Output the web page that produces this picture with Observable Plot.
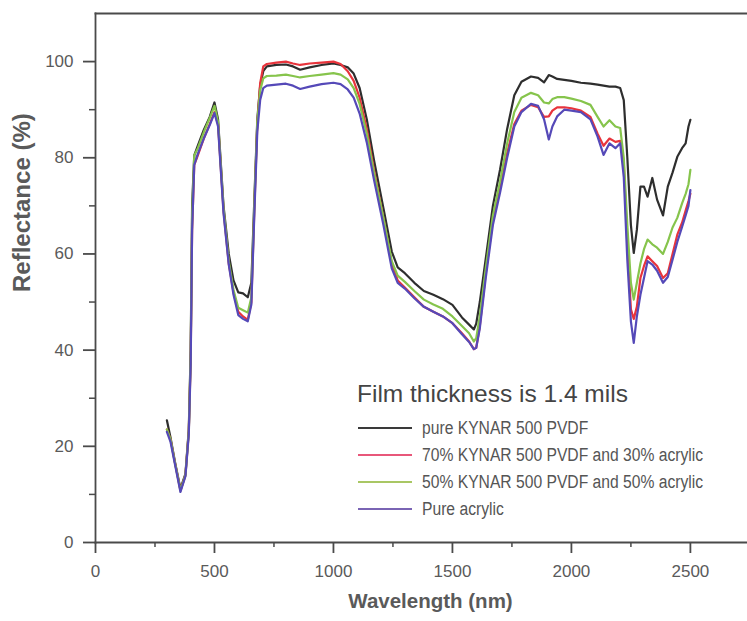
<!DOCTYPE html>
<html>
<head>
<meta charset="utf-8">
<script src="https://cdn.jsdelivr.net/npm/d3@7"></script>
<script src="https://cdn.jsdelivr.net/npm/@observablehq/plot@0.6"></script>
<style>
  html, body { margin: 0; padding: 0; background: #ffffff; }
  #wrap { position: relative; width: 747px; height: 621px; overflow: hidden; }
  #wrap svg { font-family: "Liberation Sans", Arial, sans-serif; }
  .legend-title { position: absolute; left: 357px; top: 382px; font: 24.5px/1 "Liberation Sans", Arial, sans-serif; color: #444; white-space: nowrap; }
  .legend-row { position: absolute; left: 358px; height: 26px; display: flex; align-items: center; white-space: nowrap; }
  .legend-row .sw { width: 54px; height: 2px; margin-right: 10px; flex: none; }
  .legend-row .lb { font: 18px/1 "Liberation Sans", Arial, sans-serif; color: #555; transform: scaleX(0.87); transform-origin: left center; }
</style>
</head>
<body>
<div id="wrap"></div>
<script>
// ---- data ----
const wavelength = [300, 315, 335, 357, 378, 392, 400, 406, 415, 430, 455, 480, 500, 515, 538, 560, 580, 600, 620, 640, 655, 668, 680, 692, 705, 720, 760, 800, 830, 860, 900, 950, 1000, 1030, 1060, 1085, 1110, 1140, 1170, 1210, 1245, 1270, 1300, 1340, 1380, 1420, 1460, 1500, 1540, 1570, 1590, 1600, 1615, 1640, 1670, 1700, 1730, 1760, 1790, 1830, 1860, 1885, 1905, 1920, 1940, 1970, 2000, 2040, 2080, 2110, 2135, 2160, 2185, 2205, 2220, 2235, 2250, 2262, 2275, 2290, 2305, 2320, 2340, 2360, 2385, 2405, 2425, 2445, 2465, 2480, 2492, 2500];

const pureKynar = [25.4, 21.9, 16.5, 11.2, 14.3, 23.5, 40, 70, 80.5, 82.5, 85.8, 88.5, 91.5, 88, 70, 60, 54.5, 52, 51.8, 51, 54, 72, 88, 95, 98, 99, 99.3, 99.4, 99, 98.3, 98.8, 99.3, 99.6, 99.3, 98.8, 97.5, 94.5, 88, 79.6, 69.5, 60.5, 57.2, 56, 54, 52.3, 51.5, 50.6, 49.4, 46.8, 45.3, 44.3, 45.5, 50, 59, 70, 77.5, 86, 93, 95.8, 96.9, 96.6, 95.7, 97.2, 96.9, 96.4, 96.2, 96, 95.6, 95.4, 95.2, 95, 94.8, 94.8, 94.5, 92, 80, 66, 60.2, 65, 74, 74, 71.9, 75.8, 71.3, 68, 74, 76.9, 80.2, 82, 83, 86.5, 87.9];

const kynar70 = [23.5, 21.5, 16.3, 10.8, 14, 23, 38, 65, 78.5, 80.5, 84, 87, 89.5, 87, 69, 58, 52, 48, 47, 46.3, 50, 70, 87, 95.5, 99, 99.5, 99.8, 100, 99.6, 99.3, 99.6, 99.8, 100, 99.5, 98, 96, 92.5, 86, 77.5, 67.5, 58, 54.5, 53, 51, 49, 48, 47, 45.6, 43.5, 41.8, 40.2, 40.5, 45, 56, 67, 73.5, 81, 87, 89.8, 91, 90.5, 88.5, 88.6, 89.8, 90.5, 90.5, 90.3, 89.8, 88.5, 85, 82.5, 84, 83.3, 83.5, 79, 62, 48.5, 46.5, 49, 55, 57.5, 59.5, 58.5, 57.5, 55, 56, 60, 64, 66.5, 69, 71, 72.5];

const kynar50 = [23.5, 21.5, 16.3, 10.8, 14, 23, 39, 68, 80.5, 82, 85.3, 88.3, 90.8, 87.5, 69.5, 58.5, 52.5, 48.8, 48.3, 47.8, 51, 71, 87.5, 94, 96.5, 97, 97.1, 97.3, 97, 96.7, 97, 97.3, 97.6, 97.3, 96.3, 94.5, 91.2, 85, 77, 67.5, 58.5, 55.5, 54.2, 52.3, 50.5, 49.5, 48.6, 47, 45, 43.5, 41.8, 42.5, 47, 57, 68, 75, 83, 89.5, 92.5, 93.5, 93, 91.5, 91.3, 92.2, 92.6, 92.6, 92.3, 91.8, 91, 88.5, 86.5, 87.8, 86.5, 86.2, 80, 66, 54, 50.5, 54, 58, 61, 63, 62, 61.3, 60, 62.5, 65.5, 67.5, 70.5, 72.5, 74.5, 77.5];

const pureAcrylic = [23, 21, 16, 10.5, 13.8, 22.5, 37, 65, 78.5, 80.8, 84, 86.8, 89.3, 86.5, 68.5, 57.8, 51.5, 47.3, 46.5, 46, 49.5, 69, 85.5, 92, 94.5, 95, 95.2, 95.4, 95, 94.3, 94.8, 95.3, 95.6, 95.3, 94.2, 92.5, 89.2, 83.2, 75.5, 66, 57, 54, 52.8, 50.8, 49, 48, 47, 45.6, 43.3, 41.7, 40.2, 40.5, 44.5, 55, 66, 72.7, 80, 86.5, 89.5, 91.2, 90.8, 88, 83.8, 86.5, 88.6, 90, 89.8, 89.5, 88, 84.4, 80.6, 83, 82, 83, 76, 58.7, 46, 41.5, 47, 51.5, 55, 58.5, 57.8, 56.5, 54, 55.2, 58.8, 62.5, 65.6, 68, 70, 73.3];

const seriesNames = ["pure KYNAR 500 PVDF", "70% KYNAR 500 PVDF and 30% acrylic", "50% KYNAR 500 PVDF and 50% acrylic", "Pure acrylic"];
const seriesValues = [pureKynar, kynar70, kynar50, pureAcrylic];
const seriesColors = ["#2e2e2e", "#e8343c", "#86c44c", "#5549b8"];
const legendColors = ["#3a3a3a", "#e8577a", "#a9c764", "#7a64b4"];

const legendTitle = "Film thickness is 1.4 mils";
const xLabel = "Wavelength (nm)";
const yLabel = "Reflectance (%)";
const xTicks = [0, 500, 1000, 1500, 2000, 2500];
const xMinorTicks = [250, 750, 1250, 1750, 2250];
const yTicks = [0, 20, 40, 60, 80, 100];
const yMinorTicks = [10, 30, 50, 70, 90];

// ---- build table ----
const rows = seriesNames.flatMap((name, s) =>
  wavelength.map((w, i) => ({series: name, wl: w, r: seriesValues[s][i]}))
);

const axisColor = "#4a4a4a";
const labelColor = "#5a5a5a";

const chart = Plot.plot({
  width: 747,
  height: 621,
  marginLeft: 95,
  marginRight: 0,
  marginTop: 13,
  marginBottom: 79,
  style: {background: "transparent"},
  x: {domain: [0, 2740]},
  y: {domain: [0, 110]},
  color: {domain: seriesNames, range: seriesColors},
  marks: [
    Plot.frame({anchor: "top", stroke: axisColor, strokeWidth: 1.8}),
    Plot.frame({anchor: "left", stroke: axisColor, strokeWidth: 1.8}),
    Plot.frame({anchor: "bottom", stroke: axisColor, strokeWidth: 1.8}),
    Plot.axisY(yTicks, {tickSize: 12, tickPadding: 10, strokeWidth: 1.8, stroke: axisColor, fill: labelColor,
      fontSize: 17, tickFormat: d3.format("d"), label: null}),
    Plot.axisY(yMinorTicks, {tickSize: 6, strokeWidth: 1.5, stroke: axisColor, tickFormat: () => "", label: null}),
    Plot.axisX(xTicks, {tickSize: 11, tickPadding: 11, strokeWidth: 1.8, stroke: axisColor, fill: labelColor,
      fontSize: 17, tickFormat: d3.format("d"), label: null}),
    Plot.axisX(xMinorTicks, {tickSize: 5, strokeWidth: 1.5, stroke: axisColor, tickFormat: () => "", label: null}),
    Plot.text([yLabel], {frameAnchor: "left", rotate: -90, dx: -73, dy: 14, fontSize: 24, fontWeight: "bold", fill: labelColor}),
    Plot.text([xLabel], {frameAnchor: "bottom", dx: 9, dy: 65, fontSize: 20.5, fontWeight: "bold", fill: labelColor}),
    Plot.line(rows, {x: "wl", y: "r", z: "series", stroke: "series", strokeWidth: 2.2, strokeLinejoin: "round"})
  ]
});

const wrap = document.getElementById("wrap");
wrap.appendChild(chart);

// legend overlay (inside plot area, like the reference)
const t = document.createElement("div");
t.className = "legend-title";
t.textContent = legendTitle;
wrap.appendChild(t);
const rowCenters = [428, 455, 482, 509];
seriesNames.forEach((name, i) => {
  const r = document.createElement("div");
  r.className = "legend-row";
  r.style.top = (rowCenters[i] - 13) + "px";
  const sw = document.createElement("div");
  sw.className = "sw";
  sw.style.background = legendColors[i];
  const lb = document.createElement("div");
  lb.className = "lb";
  lb.textContent = name;
  r.appendChild(sw); r.appendChild(lb);
  wrap.appendChild(r);
});
</script>
</body>
</html>
